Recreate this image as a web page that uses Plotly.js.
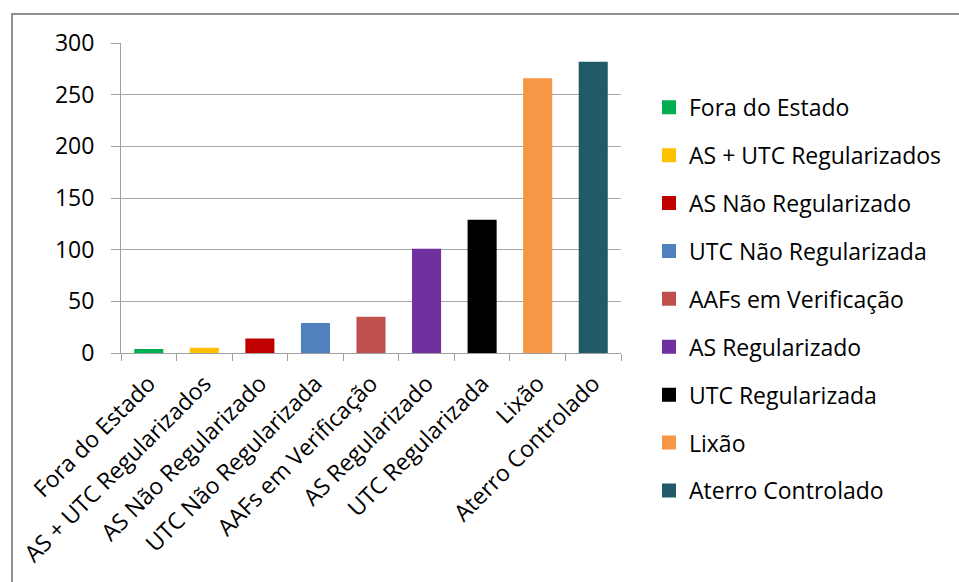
<!DOCTYPE html>
<html>
<head>
<meta charset="utf-8">
<script src="https://cdn.plot.ly/plotly-3.0.1.min.js"></script>
<style>
  html, body { margin: 0; padding: 0; background: #fff; }
  #wrap { position: relative; width: 959px; height: 582px; overflow: hidden; }
  #chart { position: absolute; left: 0; top: 0; width: 959px; height: 582px; }
  #frame { position: absolute; left: 11px; top: 13px; width: 1200px; height: 1200px;
           border: 2px solid #8f8f8f; pointer-events: none; }
</style>
</head>
<body>
<div id="wrap">
  <div id="chart"></div>
  <div id="frame"></div>
</div>
<script>
const categories = [
  "Fora do Estado",
  "AS + UTC Regularizados",
  "AS Não Regularizado",
  "UTC Não Regularizada",
  "AAFs em Verificação",
  "AS Regularizado",
  "UTC Regularizada",
  "Lixão",
  "Aterro Controlado"
];
const values = [3, 4, 13, 28, 34, 100, 128, 265, 281];
const colors = ["#00B050", "#FFC000", "#C00000", "#4F81BD", "#C0504D", "#7030A0", "#000000", "#F79646", "#215A68"];
const yTicks = [0, 50, 100, 150, 200, 250, 300];

const FONT = "Open Sans, Calibri, sans-serif";

const traces = categories.map((c, i) => ({
  type: "bar",
  name: c,
  x: [c],
  y: [values[i]],
  width: 0.487,
  legendgroup: "g" + i,
  marker: { color: colors[i], line: { width: 2, color: colors[i] } },
  hoverinfo: "x+y"
}));

const layout = {
  width: 959,
  height: 582,
  margin: { l: 121, r: 331, t: 43, b: 229, pad: 0 },
  paper_bgcolor: "#ffffff",
  plot_bgcolor: "#ffffff",
  barmode: "overlay",
  font: { family: FONT, size: 23, color: "#000000" },
  xaxis: {
    type: "category",
    categoryorder: "array",
    categoryarray: categories,
    tickson: "boundaries",
    ticks: "outside",
    ticklen: 7,
    tickcolor: "#a0a0a0",
    tickwidth: 1,
    tickangle: -45,
    ticklabelstandoff: 7,
    tickfont: { family: FONT, size: 23, color: "#000000" },
    showline: true,
    linecolor: "#a0a0a0",
    linewidth: 1,
    showgrid: false,
    zeroline: false,
    fixedrange: true
  },
  yaxis: {
    range: [0, 300],
    tickvals: yTicks,
    ticktext: yTicks.map(String),
    ticks: "outside",
    ticklen: 9,
    tickcolor: "#a0a0a0",
    tickwidth: 1,
    ticklabelstandoff: 12,
    tickfont: { family: FONT, size: 23, color: "#000000" },
    showline: true,
    linecolor: "#a0a0a0",
    linewidth: 1,
    showgrid: true,
    gridcolor: "#a6a6a6",
    gridwidth: 1,
    zeroline: false,
    fixedrange: true
  },
  showlegend: true,
  legend: {
    x: 1.056,
    xanchor: "left",
    y: 0.862,
    yanchor: "top",
    maxheight: 560,
    traceorder: "grouped",
    tracegroupgap: 15,
    font: { family: FONT, size: 23, color: "#000000" },
    bgcolor: "rgba(0,0,0,0)",
    borderwidth: 0
  }
};

Plotly.newPlot("chart", traces, layout, { displayModeBar: false, staticPlot: true });
</script>
</body>
</html>
